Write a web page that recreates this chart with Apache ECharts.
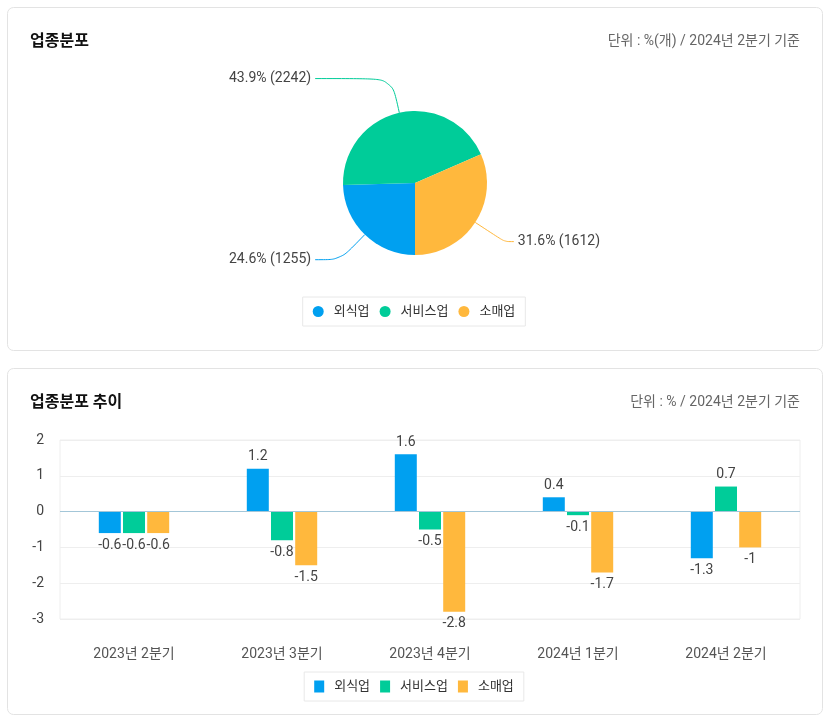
<!DOCTYPE html>
<html>
<head>
<meta charset="utf-8">
<script src="https://cdn.jsdelivr.net/npm/echarts@6/dist/echarts.min.js"></script>
<style>
	html, body { margin: 0; padding: 0; background: #fff; }
	#main { width: 828px; height: 720px; }
</style>
</head>
<body>
<div id="main"></div>
<script>
// 데이터
var industries = ['외식업', '서비스업', '소매업'];
var industryCounts = [1255, 2242, 1612];
var quarters = ['2023년 2분기', '2023년 3분기', '2023년 4분기', '2024년 1분기', '2024년 2분기'];
var foodValues = [-0.6, 1.2, 1.6, 0.4, -1.3];
var serviceValues = [-0.6, -0.8, -0.5, -0.1, 0.7];
var retailValues = [-0.6, -1.5, -2.8, -1.7, -1];
var yMin = -3, yMax = 2, yStep = 1;

var colors = ['#00A0F0', '#00CC99', '#FFB83D'];
var font = 'Roboto, "Noto Sans CJK KR", sans-serif';
var total = industryCounts.reduce(function (a, b) { return a + b; }, 0);

function barData(arr) {
	return arr.map(function (v) {
		return { value: v, label: { position: v < 0 ? 'bottom' : 'top' } };
	});
}

function barSeries(i, values) {
	return {
		type: 'bar', name: industries[i], barWidth: 22, barGap: '10%',
		itemStyle: { color: colors[i] },
		data: barData(values),
		label: { show: true, fontSize: 14, color: '#444', distance: 5 }
	};
}

var myChart = echarts.init(document.getElementById('main'));
var legendBase = {
	data: industries,
	left: 'center',
	itemGap: 10,
	padding: [8, 10],
	borderColor: '#e8e8e8', borderWidth: 1,
	textStyle: { fontSize: 13, color: '#333', padding: [0, 0, 0, 5] }
};
var food = barSeries(0, foodValues);
food.markLine = {
	silent: true, symbol: 'none', label: { show: false },
	lineStyle: { color: '#a3c6d8', type: 'solid', width: 1 },
	data: [{ yAxis: 0 }]
};

var option = {
	color: colors,
	textStyle: { fontFamily: font },
	animation: false,
	graphic: [{
		type: 'rect', z: -10,
		shape: { x: 7.5, y: 7.5, width: 815, height: 343, r: 6 },
		style: { fill: '#fff', stroke: '#e3e3e3', lineWidth: 1 }
	}, {
		type: 'rect', z: -10,
		shape: { x: 7.5, y: 368.5, width: 815, height: 346, r: 6 },
		style: { fill: '#fff', stroke: '#e3e3e3', lineWidth: 1 }
	}],
	title: [{
		text: '업종분포', left: 25, top: 29,
		textStyle: { fontSize: 16, fontWeight: 'bold', color: '#111', fontFamily: font }
	}, {
		text: '단위 : %(개) / 2024년 2분기 기준', right: 23, top: 30,
		textStyle: { fontSize: 14, fontWeight: 'normal', color: '#666', fontFamily: font }
	}, {
		text: '업종분포 추이', left: 25, top: 390,
		textStyle: { fontSize: 16, fontWeight: 'bold', color: '#111', fontFamily: font }
	}, {
		text: '단위 : % / 2024년 2분기 기준', right: 23, top: 391,
		textStyle: { fontSize: 14, fontWeight: 'normal', color: '#666', fontFamily: font }
	}],
	legend: [
		Object.assign({}, legendBase, { top: 297, icon: 'circle', itemWidth: 11, itemHeight: 11, seriesIndex: 0 }),
		Object.assign({}, legendBase, { top: 672, icon: 'rect', itemWidth: 10, itemHeight: 12 })
	],
	grid: {
		left: 60, right: 28, top: 440, bottom: 101,
		show: true, borderColor: '#eee', borderWidth: 1
	},
	xAxis: {
		type: 'category',
		data: quarters,
		axisLine: { show: false, onZero: false },
		axisTick: { show: false },
		axisLabel: { margin: 28, fontSize: 14, color: '#555' }
	},
	yAxis: {
		type: 'value',
		min: yMin, max: yMax, interval: yStep,
		axisLabel: { fontSize: 14, color: '#444', margin: 16 },
		splitLine: { lineStyle: { color: '#eee' } }
	},
	series: [{
		type: 'pie',
		name: '업종분포',
		left: 219, right: 218, top: 0, bottom: 0,
		center: [196, 183],
		radius: 72,
		startAngle: 270,
		data: industries.map(function (n, i) { return { name: n, value: industryCounts[i] }; }),
		label: {
			fontSize: 14, color: '#444',
			alignTo: 'edge', edgeDistance: 10, distanceToLabelLine: 4,
			formatter: function (p) {
				return (p.value / total * 100).toFixed(1) + '% (' + p.value + ')';
			}
		},
		labelLine: { length: 35, length2: 3, smooth: 0.3, lineStyle: { width: 1 } }
	}, food, barSeries(1, serviceValues), barSeries(2, retailValues)]
};
myChart.setOption(option);
</script>
</body>
</html>
